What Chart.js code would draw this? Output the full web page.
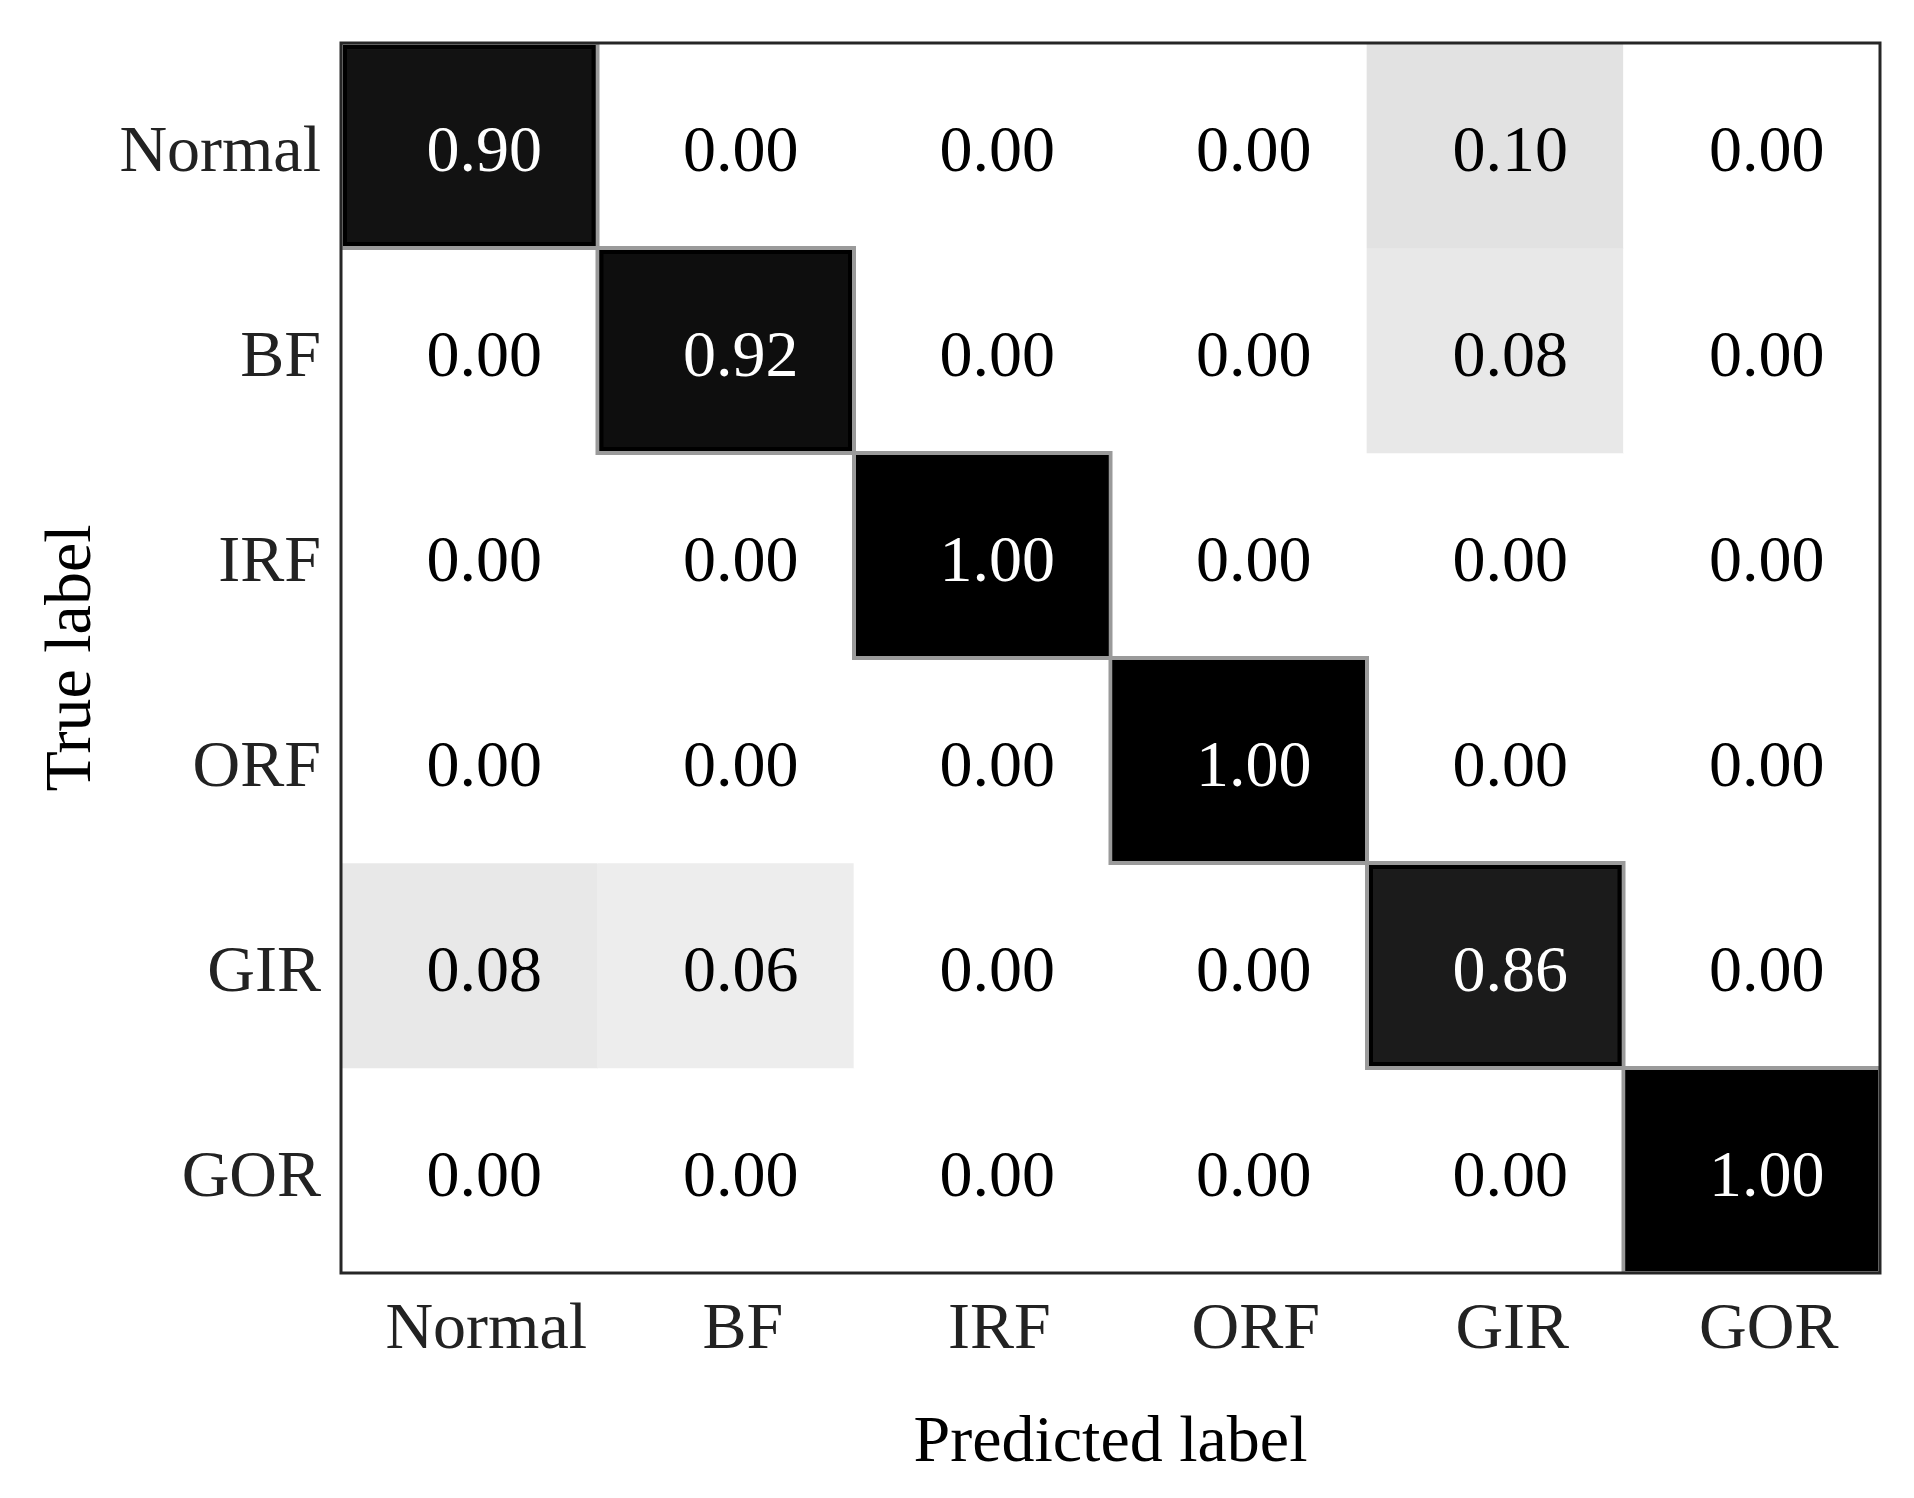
<!DOCTYPE html>
<html>
<head>
<meta charset="utf-8">
<script src="https://cdn.jsdelivr.net/npm/chart.js@4.4.1/dist/chart.umd.min.js"></script>
<style>
  body { margin: 0; background: #fff; }
  canvas { display: block; }
</style>
</head>
<body>
<canvas id="cm" width="1914" height="1498"></canvas>
<script>
// class names, same order on both axes
var predictedLabels = ['Normal', 'BF', 'IRF', 'ORF', 'GIR', 'GOR'];
var trueLabels = ['Normal', 'BF', 'IRF', 'ORF', 'GIR', 'GOR'];

// one row per true label
var rowNormal = [0.90, 0.00, 0.00, 0.00, 0.10, 0.00];
var rowBF     = [0.00, 0.92, 0.00, 0.00, 0.08, 0.00];
var rowIRF    = [0.00, 0.00, 1.00, 0.00, 0.00, 0.00];
var rowORF    = [0.00, 0.00, 0.00, 1.00, 0.00, 0.00];
var rowGIR    = [0.08, 0.06, 0.00, 0.00, 0.86, 0.00];
var rowGOR    = [0.00, 0.00, 0.00, 0.00, 0.00, 1.00];

var rows = [rowNormal, rowBF, rowIRF, rowORF, rowGIR, rowGOR];
var FONT = '"Liberation Serif", "Times New Roman", serif';

// white -> black grey map
function grey(v) {
    var g = Math.round(255 * Math.pow(1 - v, 1.15));
    return 'rgb(' + g + ',' + g + ',' + g + ')';
}

var nRows = trueLabels.length;
var datasets = rows.map(function (row, i) {
    return {
        label: trueLabels[i],
        data: row.map(function () { return [nRows - i - 1, nRows - i]; }),
        backgroundColor: row.map(grey),
        borderWidth: 0,
        categoryPercentage: 1,
        barPercentage: 1
    };
});

function cellBox(el) {
    var p = el.getProps(['x', 'y', 'base', 'width'], true);
    var top = Math.min(p.y, p.base), bottom = Math.max(p.y, p.base);
    return { left: p.x - p.width / 2, top: top, w: p.width, h: bottom - top, cx: p.x, cy: (top + bottom) / 2 };
}

// soft edges round the dark cells, like the interpolated image
var edgePlugin = {
    id: 'edges',
    afterDatasetsDraw: function (chart) {
        var ctx = chart.ctx, a = chart.chartArea;
        ctx.save();
        ctx.beginPath();
        ctx.rect(a.left, a.top, a.right - a.left, a.bottom - a.top);
        ctx.clip();
        var dark = [];
        chart.data.datasets.forEach(function (ds, i) {
            chart.getDatasetMeta(i).data.forEach(function (el, j) {
                if (rows[i][j] > 0.5) dark.push(cellBox(el));
            });
        });
        ctx.lineWidth = 4;
        ctx.strokeStyle = '#9a9a9a';
        dark.forEach(function (b) { ctx.strokeRect(b.left, b.top, b.w, b.h); });
        ctx.strokeStyle = '#000';
        dark.forEach(function (b) { ctx.strokeRect(b.left + 4, b.top + 4, b.w - 8, b.h - 8); });
        ctx.restore();
    }
};

var valuePlugin = {
    id: 'values',
    afterDatasetsDraw: function (chart) {
        var ctx = chart.ctx;
        ctx.save();
        ctx.font = '66px ' + FONT;
        ctx.textAlign = 'center';
        ctx.textBaseline = 'middle';
        chart.data.datasets.forEach(function (ds, i) {
            chart.getDatasetMeta(i).data.forEach(function (el, j) {
                var v = rows[i][j];
                var b = cellBox(el);
                ctx.fillStyle = v > 0.5 ? '#fff' : '#000';
                ctx.fillText(v.toFixed(2), b.cx + 15, b.cy + 8);
            });
        });
        ctx.restore();
    }
};

var framePlugin = {
    id: 'frame',
    afterDraw: function (chart) {
        var ctx = chart.ctx, a = chart.chartArea;
        ctx.save();
        ctx.strokeStyle = '#262626';
        ctx.lineWidth = 3;
        ctx.strokeRect(a.left, a.top, a.right - a.left, a.bottom - a.top);
        ctx.restore();
    }
};

new Chart(document.getElementById('cm'), {
    type: 'bar',
    data: { labels: predictedLabels, datasets: datasets },
    plugins: [edgePlugin, valuePlugin, framePlugin],
    options: {
        responsive: false,
        devicePixelRatio: 1,
        animation: false,
        layout: { padding: { top: 43, right: 34, left: 0, bottom: 0 } },
        plugins: { legend: { display: false }, tooltip: { enabled: false } },
        scales: {
            x: {
                type: 'category',
                stacked: true,
                grid: { display: false, drawTicks: false },
                border: { display: false },
                ticks: {
                    color: '#222',
                    font: { family: FONT, size: 66, lineHeight: 1.2 },
                    padding: 18,
                    labelOffset: 17,
                    maxRotation: 0,
                    autoSkip: false
                },
                title: {
                    display: true,
                    text: 'Predicted label',
                    color: '#000',
                    font: { family: FONT, size: 66, lineHeight: 1.2 },
                    padding: { top: 0, bottom: 15 }
                },
                afterFit: function (s) {
                    s.height = 225;
                    s.paddingLeft = 0;
                    s.paddingRight = 0;
                }
            },
            y: {
                type: 'linear',
                stacked: false,
                min: 0,
                max: nRows,
                grid: { display: false, drawTicks: false },
                border: { display: false },
                afterBuildTicks: function (s) {
                    s.ticks = trueLabels.map(function (_, i) { return { value: nRows - i - 0.5 }; });
                },
                ticks: {
                    color: '#222',
                    font: { family: FONT, size: 66, lineHeight: 1.2 },
                    padding: 20,
                    labelOffset: 8,
                    autoSkip: false,
                    callback: function (value) {
                        return trueLabels[Math.round(nRows - 0.5 - value)];
                    }
                },
                title: {
                    display: true,
                    text: 'True label',
                    color: '#000',
                    font: { family: FONT, size: 66, lineHeight: 1.2 },
                    padding: { top: 33, bottom: 0 }
                },
                afterFit: function (s) {
                    s.width = 341;
                    s.paddingTop = 0;
                    s.paddingBottom = 0;
                }
            }
        }
    }
});
</script>
</body>
</html>
